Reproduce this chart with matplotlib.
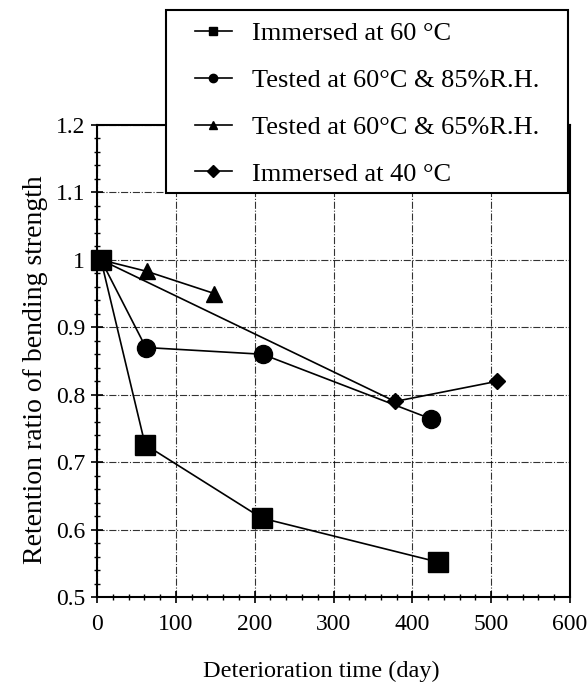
import matplotlib
matplotlib.use("Agg")
import matplotlib.pyplot as plt
from matplotlib.lines import Line2D
from matplotlib.patches import Rectangle
from matplotlib.ticker import MultipleLocator

plt.rcParams["font.family"] = ["Liberation Serif", "DejaVu Serif"]

# data
imm60_x = [5, 61, 209, 432]
imm60_y = [1.0, 0.726, 0.617, 0.552]

rh85_x = [5, 62, 210, 424]
rh85_y = [1.0, 0.87, 0.86, 0.764]

rh65_x = [5, 63, 149]
rh65_y = [1.0, 0.983, 0.95]

imm40_x = [5, 378, 508]
imm40_y = [1.0, 0.79, 0.82]

labels = [
    "Immersed at 60 \u00b0C",
    "Tested at 60\u00b0C & 85%R.H.",
    "Tested at 60\u00b0C & 65%R.H.",
    "Immersed at 40 \u00b0C",
]
markers = ["s", "o", "^", "D"]
msizes = [14, 13, 11, 8]

xticks = [0, 100, 200, 300, 400, 500, 600]
yticks = [0.5, 0.6, 0.7, 0.8, 0.9, 1.0, 1.1, 1.2]
yticklabels = ["0.5", "0.6", "0.7", "0.8", "0.9", "1", "1.1", "1.2"]

W, H = 588, 687
fig = plt.figure(figsize=(W / 100, H / 100), dpi=100)
ax = fig.add_axes([97 / W, 1 - 597 / H, 473 / W, 472 / H])

series = [(imm60_x, imm60_y), (rh85_x, rh85_y), (rh65_x, rh65_y), (imm40_x, imm40_y)]
for (xs, ys), m, ms in zip(series, markers, msizes):
    ax.plot(xs, ys, color="black", lw=1.2, marker=m, ms=ms, zorder=3, clip_on=False)

ax.set_xlim(0, 600)
ax.set_ylim(0.5, 1.2)
ax.set_xticks(xticks)
ax.set_yticks(yticks)
ax.set_yticklabels(yticklabels)
ax.xaxis.set_minor_locator(MultipleLocator(20))
ax.yaxis.set_minor_locator(MultipleLocator(0.02))
ax.tick_params(which="major", direction="inout", length=9, width=1.2, labelsize=17, colors="black")
ax.tick_params(which="minor", direction="inout", length=5, width=1.0)
ax.tick_params(axis="x", pad=8)
ax.tick_params(axis="y", pad=4)
ax.grid(True, which="major", color="black", ls="-.", lw=0.8, alpha=0.8)
for s in ax.spines.values():
    s.set_linewidth(1.5)

ax.set_xlabel("Deterioration time (day)", fontsize=17.5)
ax.xaxis.set_label_coords(0.475, -0.135)
ax.set_ylabel("Retention ratio of bending strength", fontsize=20)
ax.yaxis.set_label_coords(-0.104, 0.481)

# legend box drawn over the top of the axes
box = Rectangle((166 / W, 1 - 193 / H), 402 / W, 183 / H, transform=fig.transFigure,
                facecolor="white", edgecolor="black", lw=1.5, zorder=5)
fig.patches.append(box)

handles = [
    Line2D([], [], color="black", lw=1.2, marker=m, ms=6)
    for m in markers
]
leg = fig.legend(
    handles, labels,
    loc="upper left",
    bbox_to_anchor=(195 / W, 1 - 22 / H),
    frameon=False,
    borderpad=0,
    borderaxespad=0,
    fontsize=19,
    handlelength=1.4,
    labelspacing=0.88,
    handletextpad=0.75,
)
leg.set_zorder(6)

fig.savefig("out.png", dpi=100)
